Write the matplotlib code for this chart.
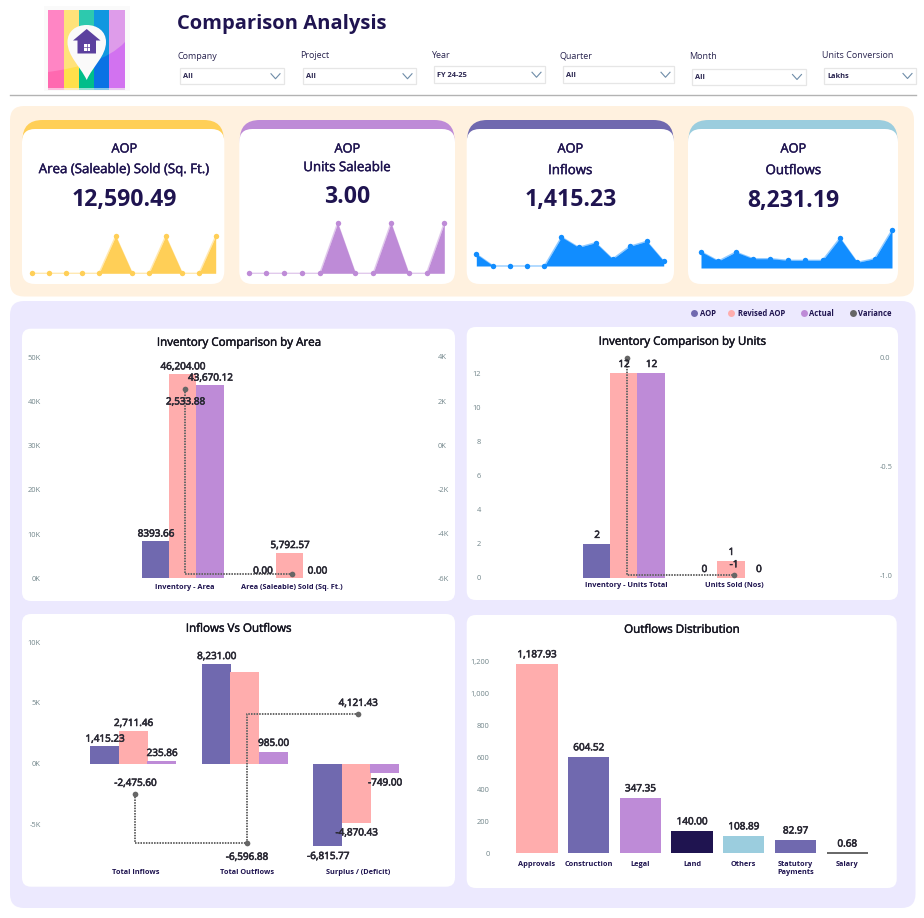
import matplotlib
matplotlib.use("Agg")
import matplotlib.pyplot as plt
import matplotlib.patheffects as pe
from matplotlib.patches import FancyBboxPatch, Polygon, Rectangle, PathPatch
from matplotlib.path import Path

plt.rcParams['font.family'] = ['Open Sans', 'DejaVu Sans']

W, H = 924, 918
NAVY = '#1F1450'
AOP_C = '#7069AF'
REV_C = '#FFADAD'
ACT_C = '#BE8BD7'
VAR_C = '#666666'
LABEL_C = '#2B2A35'
TICK_C = '#71858A'

# filters
filter_names = ['Company', 'Project', 'Year', 'Quarter', 'Month', 'Units Conversion']
filter_values = ['All', 'All', 'FY 24-25', 'All', 'All', 'Lakhs']

# kpi cards
kpi_titles = ['Area (Saleable) Sold (Sq. Ft.)', 'Units Saleable', 'Inflows', 'Outflows']
kpi_values = ['12,590.49', '3.00', '1,415.23', '8,231.19']
spark_area = [0, 0, 0, 0, 0, 4196.83, 0, 0, 4196.83, 0, 0, 4196.83]
spark_units = [0, 0, 0, 0, 0, 1, 0, 0, 1, 0, 0, 1]
spark_inflows = [122, 0, 0, 0, 0, 295, 190, 237, 71, 200, 251, 49]
spark_outflows = [820, 351, 803, 468, 468, 385, 385, 385, 1506, 284, 468, 1907]

# inventory by area
area_cats = ['Inventory - Area', 'Area (Saleable) Sold (Sq. Ft.)']
area_aop = [8393.66, 0.00]
area_rev = [46204.00, 5792.57]
area_act = [43670.12, 0.00]
area_var = [2533.88, -5792.57]
area_aop_txt = ['8393.66', '0.00']
area_rev_txt = ['46,204.00', '5,792.57']
area_act_txt = ['43,670.12', '0.00']

# inventory by units
unit_cats = ['Inventory - Units Total', 'Units Sold (Nos)']
unit_aop = [2, 0]
unit_rev = [12, 1]
unit_act = [12, 0]
unit_var = [0, -1]

# inflows vs outflows
flow_cats = ['Total Inflows', 'Total Outflows', 'Surplus / (Deficit)']
flow_aop = [1415.23, 8231.00, -6815.77]
flow_rev = [2711.46, 7581.88, -4870.43]
flow_act = [235.86, 985.00, -749.00]
flow_var = [-2475.60, -6596.88, 4121.43]

# outflows distribution
dist_cats = ['Approvals', 'Construction', 'Legal', 'Land', 'Others', 'Statutory\nPayments', 'Salary']
dist_vals = [1187.93, 604.52, 347.35, 140.00, 108.89, 82.97, 0.68]
dist_cols = [REV_C, AOP_C, ACT_C, NAVY, '#9BCDDE', AOP_C, VAR_C]

fig = plt.figure(figsize=(W / 100, H / 100), dpi=100, facecolor='white')
bg = fig.add_axes([0, 0, 1, 1])
bg.set_xlim(0, W)
bg.set_ylim(H, 0)
bg.axis('off')


def semibold(text, color, width=0.3):
    # thin stroke gets regular weight close to the reference's semibold
    text.set_path_effects([pe.withStroke(linewidth=width, foreground=color)])
    return text


def round_box(x0, y0, x1, y1, r, color, z=1):
    p = FancyBboxPatch((x0, y0), x1 - x0, y1 - y0, boxstyle=f'round,pad=0,rounding_size={r}',
                       fc=color, ec='none', zorder=z)
    bg.add_patch(p)


def draw_logo():
    bg.add_patch(Rectangle((44, 6), 86, 85, fc='#FAFAFA', ec='none', zorder=2))
    edges = [48, 64, 79, 94, 109, 125]
    light = ['#FF85C4', '#FFE27A', '#2DC9AE', '#1097E0', '#DE9CEA']
    dark = ['#FF69B0', '#FFE04A', '#00BE8A', '#0A72E4', '#D272F0']
    for i in range(5):
        bg.add_patch(Rectangle((edges[i], 10), edges[i + 1] - edges[i], 78, fc=light[i], ec='none', zorder=3))
        bg.add_patch(Rectangle((edges[i], 88), edges[i + 1] - edges[i], 2, fc=light[i], ec='none', alpha=0.5, zorder=3))
    # darker lower part under an arc
    arc = Path([(48, 72), (78, 68), (108, 60), (125, 42), (125, 88), (48, 88), (48, 72)],
               [Path.MOVETO, Path.CURVE4, Path.CURVE4, Path.CURVE4, Path.LINETO, Path.LINETO, Path.CLOSEPOLY])
    for i in range(5):
        patch = Rectangle((edges[i], 10), edges[i + 1] - edges[i], 78, fc=dark[i], ec='none', zorder=4)
        bg.add_patch(patch)
        patch.set_clip_path(PathPatch(arc, transform=bg.transData))
    # pin
    pin = Path([(86.7, 80), (80, 66), (67.5, 56), (67.5, 42), (67.5, 31), (76, 25), (86.7, 25),
                (97, 25), (106, 31), (106, 42), (106, 56), (93, 66), (86.7, 80), (86.7, 80)],
               [Path.MOVETO] + [Path.CURVE4] * 12 + [Path.CLOSEPOLY])
    bg.add_patch(PathPatch(pin, fc='#FAFAFA', ec='none', zorder=5))
    bg.add_patch(Polygon([(86.7, 29), (100.5, 40.5), (96, 40.5), (96, 53.5), (77.5, 53.5), (77.5, 40.5), (73, 40.5)],
                         fc='#5B409E', ec='none', zorder=6))
    bg.add_patch(Rectangle((83.5, 44), 6.5, 6.5, fc='white', ec='none', zorder=7))
    bg.plot([86.75, 86.75], [44, 50.5], color='#5B409E', lw=0.5, zorder=8)
    bg.plot([83.5, 90], [47.25, 47.25], color='#5B409E', lw=0.5, zorder=8)


def draw_header():
    draw_logo()
    bg.text(177, 24.5, 'Comparison Analysis', fontsize=14.5, fontweight='bold', color=NAVY, va='center', ha='left', zorder=5)
    label_pos = [(177, 56), (300, 55), (431, 55), (560, 55), (689, 56), (822, 55)]
    boxes = [(180, 67.5, 284, 84), (303, 67.5, 416, 84), (434, 66, 545, 82.5),
             (563, 66, 674, 82.5), (692, 68.5, 805.5, 84.5), (824, 67.5, 916, 83.5)]
    for name, val, (lx, ly), (x0, y0, x1, y1) in zip(filter_names, filter_values, label_pos, boxes):
        bg.text(lx, ly + 0.8, name, fontsize=6.5, color='#2A2550', va='center', ha='left', zorder=5)
        bg.add_patch(Rectangle((x0, y0), x1 - x0, y1 - y0, fc='white', ec='#E6E6E6', lw=0.9, zorder=4))
        bg.text(x0 + 3, (y0 + y1) / 2 + 1, val, fontsize=5.3, fontweight='bold', color='#2A2550', va='center', ha='left', zorder=5)
        cx, cy = x1 - 8.5, (y0 + y1) / 2 + 0.5
        bg.plot([cx - 4.5, cx, cx + 4.5], [cy - 2.5, cy + 2.5, cy - 2.5], color='#6E8CA8', lw=0.8, zorder=5)
    bg.plot([10, 916], [95, 95], color='#B3B3B3', lw=1, zorder=3)


def draw_kpi(i, box, bar_color, title_y, value_y, cx, spark, spark_color, spark_px):
    x0, x1 = box
    round_box(x0 + 0.5, 120, x1 - 0.5, 160, 20, bar_color, z=2)
    round_box(x0, 129, x1, 284, 13, 'white', z=3)
    semibold(bg.text(cx, 149, 'AOP', fontsize=9.2, color=NAVY, ha='center', va='center', zorder=5), NAVY)
    semibold(bg.text(cx, title_y + 1.3, kpi_titles[i], fontsize=9.55, color=NAVY, ha='center', va='center', zorder=5), NAVY)
    bg.text(cx, value_y + 1, kpi_values[i], fontsize=16.6, fontweight='bold', color=NAVY, ha='center', va='center', zorder=5)
    # sparkline axes, spark_px = left px, right px, baseline px, px of the top value
    l, r, base, top = spark_px
    ax = fig.add_axes([l / W, 1 - base / H, (r - l) / W, (base - top) / H])
    ax.patch.set_alpha(0)
    ax.axis('off')
    xs = list(range(len(spark)))
    ax.set_xlim(0, len(spark) - 1)
    ax.set_ylim(0, max(spark))
    ax.fill_between(xs, spark, 0, color=spark_color, lw=0, clip_on=False)
    ax.plot(xs, spark, color=spark_color, lw=1, alpha=0.45, clip_on=False)
    ax.plot(xs, spark, ls='none', marker='o', ms=3.9, mfc=spark_color, mec='none', clip_on=False)


def chart_axes(box, x_ref, x_step, y_ref, y_step):
    # box in pixels: left, top, right, bottom. Category 0 sits at x_ref, value 0 at y_ref
    l, t, r, b = box
    ax = fig.add_axes([l / W, 1 - b / H, (r - l) / W, (b - t) / H])
    ax.patch.set_alpha(0)
    for s in ax.spines.values():
        s.set_visible(False)
    ax.set_xlim((l - x_ref) / x_step, (r - x_ref) / x_step)
    ax.set_ylim((y_ref - b) / y_step, (y_ref - t) / y_step)
    ax.tick_params(length=0)
    return ax


def set_ticks(ax, vals, labels, pad=2.2):
    ax.set_yticks(vals, labels)
    ax.tick_params(axis='y', labelsize=5.4, labelcolor=TICK_C, pad=pad)


def set_cats(ax, cats, pad=1.5):
    ax.set_xticks(range(len(cats)), cats)
    ax.tick_params(axis='x', labelsize=5.3, labelcolor=NAVY, pad=pad)
    for t in ax.get_xticklabels():
        t.set_fontweight('bold')
        t.set_linespacing(1.35)


def val_label(top, ref, x, y, text, dy, dx=0.4):
    t = top.annotate(text, xy=(x, y), xycoords=ref.transData, xytext=(dx, dy - 0.8), textcoords='offset pixels',
                     ha='center', va='center', fontsize=7.15, color=LABEL_C,
                     annotation_clip=False, zorder=20)
    semibold(t, LABEL_C, 0.45)


def grouped(ax, aop, rev, act, off, width):
    xs = range(len(aop))
    ax.bar([x + off[0] for x in xs], aop, width, color=AOP_C, lw=0, zorder=2)
    ax.bar([x + off[1] for x in xs], rev, width, color=REV_C, lw=0, zorder=3)
    ax.bar([x + off[2] for x in xs], act, width, color=ACT_C, lw=0, zorder=4)


def var_line(ax, var):
    ax.plot(range(len(var)), var, color=VAR_C, lw=1.4, ls=(0, (0.8, 0.6)), drawstyle='steps-pre', zorder=6)
    ax.plot(range(len(var)), var, ls='none', marker='o', ms=4.1, mfc=VAR_C, mec='none', zorder=7)


def card_title(x, y, text):
    semibold(bg.text(x, y + 1.3, text, fontsize=8.35, color='#141420', ha='center', va='center', zorder=5), '#141420')


def chart_area():
    card_title(239.3, 341, 'Inventory Comparison by Area')
    box = (43.7, 345, 435, 582)
    ax = chart_axes(box, 185, 107, 578.3, 221 / 50000)
    grouped(ax, area_aop, area_rev, area_act, off, 0.257)
    set_ticks(ax, [0, 10000, 20000, 30000, 40000, 50000], ['0K', '10K', '20K', '30K', '40K', '50K'])
    set_cats(ax, area_cats)
    ax2 = ax.twinx()
    ax2.patch.set_alpha(0)
    for s in ax2.spines.values():
        s.set_visible(False)
    ax2.set_ylim((-6000 + (578.3 - 582) * 10000 / 221.6), (-6000 + (578.3 - 345) * 10000 / 221.6))
    ax2.set_yticks([-6000, -4000, -2000, 0, 2000, 4000], ['-6K', '-4K', '-2K', '0K', '2K', '4K'])
    ax2.tick_params(axis='y', length=0, labelsize=5.4, labelcolor=TICK_C, pad=2.2)
    var_line(ax2, area_var)
    for i in range(2):
        val_label(ax2, ax, i + off[0], area_aop[i], area_aop_txt[i], 8)
        val_label(ax2, ax, i + off[1], area_rev[i], area_rev_txt[i], 8)
        val_label(ax2, ax, i + off[2], area_act[i], area_act_txt[i], 8)
    val_label(ax2, ax2, 0, area_var[0], '2,533.88', -12)


def chart_units():
    card_title(682.7, 340, 'Inventory Comparison by Units')
    box = (484, 345, 877, 580)
    ax = chart_axes(box, 626.7, 107.3, 578, 205 / 12)
    grouped(ax, unit_aop, unit_rev, unit_act, off_u, 0.257)
    set_ticks(ax, [0, 2, 4, 6, 8, 10, 12], ['0', '2', '4', '6', '8', '10', '12'])
    set_cats(ax, unit_cats)
    ax2 = ax.twinx()
    ax2.patch.set_alpha(0)
    for s in ax2.spines.values():
        s.set_visible(False)
    per_px = 1 / 217.6
    ax2.set_ylim(-1 + (575.3 - 580) * per_px, -1 + (575.3 - 345) * per_px)
    ax2.set_yticks([-1, -0.5, 0], ['-1.0', '-0.5', '0.0'])
    ax2.tick_params(axis='y', length=0, labelsize=5.4, labelcolor=TICK_C, pad=2.2)
    var_line(ax2, unit_var)
    for i in range(2):
        val_label(ax2, ax, i + off_u[0], unit_aop[i], str(unit_aop[i]), 9.3)
        val_label(ax2, ax, i + off_u[1], unit_rev[i], str(unit_rev[i]), 9.3)
        val_label(ax2, ax, i + off_u[2], unit_act[i], str(unit_act[i]), 9.3)
    val_label(ax2, ax2, 1, unit_var[1], '-1', 11.3, dx=0)


def chart_flows():
    card_title(239, 627, 'Inflows Vs Outflows')
    box = (43.7, 635, 435, 867)
    ax = chart_axes(box, 135.3, 111.5, 763.5, 60.6 / 5000)
    off_f = [-30.6 / 111.5, -2.1 / 111.5, 26.3 / 111.5]
    grouped(ax, flow_aop, flow_rev, flow_act, off_f, 29 / 111.5)
    set_ticks(ax, [-5000, 0, 5000, 10000], ['-5K', '0K', '5K', '10K'])
    set_cats(ax, flow_cats)
    var_line(ax, flow_var)
    aop_txt = ['1,415.23', '8,231.00', '-6,815.77']
    rev_txt = ['2,711.46', None, '-4,870.43']
    act_txt = ['235.86', '985.00', '-749.00']
    for i in range(3):
        dy = 8 if i < 2 else -9.6
        val_label(ax, ax, i + off_f[0], flow_aop[i], aop_txt[i], dy)
        if rev_txt[i]:
            val_label(ax, ax, i + off_f[1], flow_rev[i], rev_txt[i], dy)
        val_label(ax, ax, i + off_f[2], flow_act[i], act_txt[i], dy + (1 if i == 1 else 0))
    val_label(ax, ax, 0, flow_var[0], '-2,475.60', 11, dx=0)
    val_label(ax, ax, 1, flow_var[1], '-6,596.88', -13, dx=0)
    val_label(ax, ax, 2, flow_var[2], '4,121.43', 11, dx=0)


def chart_dist():
    card_title(682.3, 628, 'Outflows Distribution')
    box = (492.5, 640, 880, 858.5)
    ax = chart_axes(box, 537, 51.7, 853, 191.3 / 1200)
    xs = range(len(dist_vals))
    ax.bar(xs, dist_vals, 0.8, color=dist_cols, lw=0)
    ax.bar(6, dist_vals[6], 0.8, color=VAR_C, ec=VAR_C, lw=1.4)
    set_ticks(ax, [0, 200, 400, 600, 800, 1000, 1200], ['0', '200', '400', '600', '800', '1,000', '1,200'])
    set_cats(ax, dist_cats)
    labels = ['1,187.93', '604.52', '347.35', '140.00', '108.89', '82.97', '0.68']
    for i in xs:
        val_label(ax, ax, i, dist_vals[i], labels[i], 9.6, dx=0)


def draw_legend():
    items = [('AOP', AOP_C, 694.3, 700), ('Revised AOP', REV_C, 731, 737.5),
             ('Actual', ACT_C, 804, 809), ('Variance', VAR_C, 852.7, 858.5)]
    for name, col, dot_x, text_x in items:
        bg.plot([dot_x], [313], marker='o', ms=5.0, mfc=col, mec='none', zorder=5)
        bg.text(text_x, 314, name, fontsize=5.5, fontweight='bold', color=NAVY, va='center', ha='left', zorder=5)


off = [-29.5 / 107, -2.5 / 107, 25 / 107]
off_u = [-30 / 107.3, -3 / 107.3, 24.5 / 107.3]

draw_header()

# panels
round_box(10, 106, 914, 296.5, 14, '#FFF1DF')
round_box(10, 301, 915.5, 908, 14, '#ECE9FE')
round_box(22, 328.7, 455, 601, 9, 'white', z=2)
round_box(466.7, 327, 898, 600, 9, 'white', z=2)
round_box(22, 614, 455, 886.7, 9, 'white', z=2)
round_box(466.7, 615, 896.7, 888, 9, 'white', z=2)

draw_kpi(0, (22, 224.3), '#FFCF57', 168.3, 199, 124.3, spark_area, '#FFCF57', (32.3, 215.7, 273.3, 236))
draw_kpi(1, (239.3, 455), ACT_C, 166.3, 195.7, 347.3, spark_units, ACT_C, (248.7, 444.3, 273.3, 223))
draw_kpi(2, (466.7, 674), AOP_C, 169.3, 199, 570.3, spark_inflows, '#118DFF', (476.3, 663.7, 266, 237))
draw_kpi(3, (688, 898), '#9BCDDE', 169.3, 200, 793.3, spark_outflows, '#118DFF', (701, 892, 268, 230))

draw_legend()
chart_area()
chart_units()
chart_flows()
chart_dist()

fig.savefig('out.png', dpi=100)
